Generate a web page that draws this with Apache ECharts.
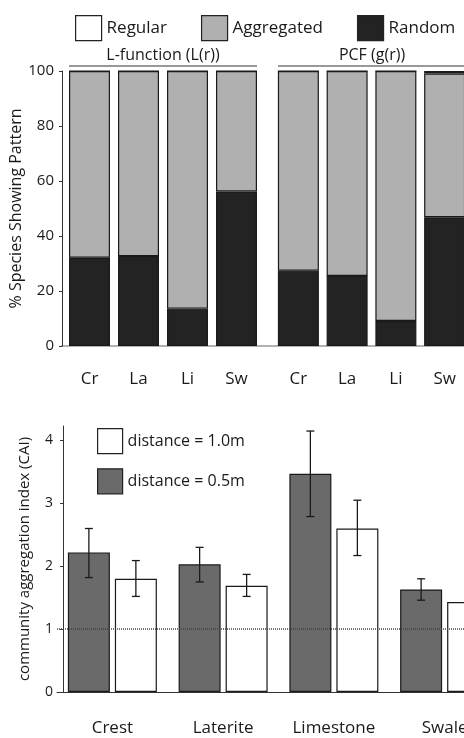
<!DOCTYPE html>
<html>
<head>
<meta charset="utf-8">
<script src="https://cdn.jsdelivr.net/npm/echarts@6/dist/echarts.min.js"></script>
<style>
html,body{margin:0;padding:0;background:#fff;}
#chart{width:464px;height:738px;}
</style>
</head>
<body>
<div id="chart"></div>
<script>
// ---- Top panel data (% species showing pattern) ----
const sitesShort = ['Cr', 'La', 'Li', 'Sw'];
const lRandom     = [32.1, 32.7, 13.6, 56.2];
const lAggregated = [67.9, 67.3, 86.4, 43.8];
const lRegular    = [0, 0, 0, 0];
const gRandom     = [27.4, 25.5, 9.1, 46.8];
const gAggregated = [72.6, 74.5, 90.9, 52.3];
const gRegular    = [0, 0, 0, 0.9];
const pctTicks = [0, 20, 40, 60, 80, 100];

// ---- Bottom panel data (CAI) ----
const sites = ['Crest', 'Laterite', 'Limestone', 'Swale'];
const cai05   = [2.22, 2.03, 3.47, 1.63];
const cai05Lo = [1.82, 1.75, 2.79, 1.46];
const cai05Hi = [2.60, 2.30, 4.15, 1.80];
const cai10   = [1.80, 1.69, 2.60, 1.43];
const cai10Lo = [1.52, 1.52, 2.17, 1.25];
const cai10Hi = [2.09, 1.87, 3.05, 1.61];
const caiTicks = [0, 1, 2, 3, 4];

const FONT = 'Open Sans';
const chart = echarts.init(document.getElementById('chart'), null, {renderer: 'canvas'});

function stackSeries(gridIdx, rnd, agg, reg) {
  const stackName = 's' + gridIdx;
  const common = {type: 'bar', stack: stackName, barWidth: 41, xAxisIndex: gridIdx, yAxisIndex: gridIdx};
  return [
    Object.assign({}, common, {name: 'Random', data: rnd, itemStyle: {color: '#232323', borderColor: '#1a1a1a', borderWidth: 1.2}}),
    Object.assign({}, common, {name: 'Aggregated', data: agg, itemStyle: {color: '#b0b0b0', borderColor: '#1a1a1a', borderWidth: 1.2}}),
    Object.assign({}, common, {name: 'Regular', data: reg, itemStyle: {color: '#ffffff', borderColor: '#1a1a1a', borderWidth: 1.2}})
  ];
}

const BAR_W = 42, BAR_GAP = 5;
const OFF = (BAR_W + BAR_GAP) / 2;
function errRender(offset) {
  return function (params, api) {
    const idx = api.value(0);
    const x = api.coord([idx, 0])[0] + offset;
    const yLo = api.coord([idx, api.value(1)])[1];
    const yHi = api.coord([idx, api.value(2)])[1];
    const cap = 4;
    const st = {stroke: '#1a1a1a', lineWidth: 1.3};
    return {type: 'group', children: [
      {type: 'line', shape: {x1: x, y1: yLo, x2: x, y2: yHi}, style: st},
      {type: 'line', shape: {x1: x - cap, y1: yHi, x2: x + cap, y2: yHi}, style: st},
      {type: 'line', shape: {x1: x - cap, y1: yLo, x2: x + cap, y2: yLo}, style: st}
    ]};
  };
}
const err05 = sites.map((s, i) => [i, cai05Lo[i], cai05Hi[i]]);
const err10 = sites.map((s, i) => [i, cai10Lo[i], cai10Hi[i]]);

const option = {
  backgroundColor: '#fff',
  animation: false,
  textStyle: {fontFamily: FONT},
  legend: [
    {
      data: [
        {name: 'Regular', itemStyle: {color: '#fff', borderColor: '#222', borderWidth: 1.2}},
        {name: 'Aggregated', itemStyle: {color: '#b0b0b0', borderColor: '#222', borderWidth: 1.2}},
        {name: 'Random', itemStyle: {color: '#232323', borderColor: '#222', borderWidth: 1.2}}
      ],
      left: 70, top: 10, width: 600, itemWidth: 26, itemHeight: 25, itemGap: 34,
      selectedMode: false, icon: 'rect',
      textStyle: {fontSize: 17, color: '#1a1a1a', fontFamily: FONT}
    },
    {
      data: [
        {name: 'distance = 1.0m', itemStyle: {color: '#fff', borderColor: '#222', borderWidth: 1.2}},
        {name: 'distance = 0.5m', itemStyle: {color: '#6a6a6a', borderColor: '#222', borderWidth: 1.2}}
      ],
      orient: 'vertical', left: 92, top: 423, itemWidth: 25, itemHeight: 25, itemGap: 14,
      selectedMode: false, icon: 'rect',
      textStyle: {fontSize: 16, color: '#1a1a1a', fontFamily: FONT}
    }
  ],
  grid: [
    {left: 65, top: 71, width: 196, height: 275, outerBoundsMode: 'none', containLabel: false},
    {left: 274, top: 71, width: 195, height: 275, outerBoundsMode: 'none', containLabel: false},
    {left: 57, top: 426, width: 443, height: 266, outerBoundsMode: 'none', containLabel: false}
  ],
  xAxis: [
    {type: 'category', gridIndex: 0, data: sitesShort, axisLine: {show: false}, axisTick: {show: false},
     axisLabel: {interval: 0, fontSize: 17, color: '#1a1a1a', margin: 25, fontFamily: FONT}},
    {type: 'category', gridIndex: 1, data: sitesShort, axisLine: {show: false}, axisTick: {show: false},
     axisLabel: {interval: 0, fontSize: 17, color: '#1a1a1a', margin: 25, fontFamily: FONT}},
    {type: 'category', gridIndex: 2, data: sites, axisLine: {lineStyle: {color: '#333', width: 1}}, axisTick: {show: false},
     axisLabel: {interval: 0, fontSize: 17, color: '#1a1a1a', margin: 28, fontFamily: FONT, hideOverlap: false}}
  ],
  yAxis: [
    {type: 'value', gridIndex: 0, min: 0, max: 100, interval: 20, offset: 3,
     name: '% Species Showing Pattern', nameLocation: 'middle', nameGap: 30,
     nameTextStyle: {fontSize: 16, color: '#1a1a1a', fontFamily: FONT},
     axisLine: {show: true, lineStyle: {color: '#333', width: 1}},
     axisTick: {show: true, length: 3, lineStyle: {color: '#333'}, customValues: pctTicks},
     axisLabel: {fontSize: 15, color: '#1a1a1a', margin: 8, fontFamily: FONT, customValues: pctTicks},
     splitLine: {show: false}},
    {type: 'value', gridIndex: 1, min: 0, max: 100, interval: 20, show: false, splitLine: {show: false}},
    {type: 'value', gridIndex: 2, min: 0, max: 4.23, interval: 1, offset: -6,
     name: 'community aggregation index (CAI)', nameLocation: 'middle', nameGap: 31,
     nameTextStyle: {fontSize: 15, color: '#1a1a1a', fontFamily: FONT},
     axisLine: {show: true, lineStyle: {color: '#333', width: 1}},
     axisTick: {show: true, length: 3, lineStyle: {color: '#333'}, customValues: caiTicks},
     axisLabel: {fontSize: 14, color: '#1a1a1a', margin: 10, fontFamily: FONT, customValues: caiTicks},
     splitLine: {show: false}}
  ],
  graphic: [
    {type: 'line', shape: {x1: 61, y1: 346, x2: 464, y2: 346}, style: {stroke: '#666', lineWidth: 1}, z: 0},
    {type: 'line', shape: {x1: 69, y1: 66, x2: 257, y2: 66}, style: {stroke: '#777', lineWidth: 1.5}},
    {type: 'line', shape: {x1: 278, y1: 66, x2: 470, y2: 66}, style: {stroke: '#777', lineWidth: 1.5}},
    {type: 'text', x: 163, y: 55, style: {text: 'L-function (L(r))', font: '16px "Open Sans"', fill: '#1a1a1a', textAlign: 'center', textVerticalAlign: 'middle'}},
    {type: 'text', x: 372, y: 55, style: {text: 'PCF (g(r))', font: '16px "Open Sans"', fill: '#1a1a1a', textAlign: 'center', textVerticalAlign: 'middle'}}
  ],
  series: [].concat(
    stackSeries(0, lRandom, lAggregated, lRegular),
    stackSeries(1, gRandom, gAggregated, gRegular),
    [
      {type: 'line', xAxisIndex: 2, yAxisIndex: 2, data: [], z: 1, silent: true,
       markLine: {silent: true, symbol: 'none', label: {show: false},
                  lineStyle: {color: '#444', type: [1, 1], width: 1.5},
                  data: [{yAxis: 1}]}},
      {type: 'bar', name: 'distance = 0.5m', xAxisIndex: 2, yAxisIndex: 2, data: cai05, z: 2,
       barWidth: BAR_W, barGap: (BAR_GAP / BAR_W * 100).toFixed(1) + '%',
       itemStyle: {color: '#6a6a6a', borderColor: '#1a1a1a', borderWidth: 1.2}},
      {type: 'bar', name: 'distance = 1.0m', xAxisIndex: 2, yAxisIndex: 2, data: cai10, z: 2,
       barWidth: BAR_W, barGap: (BAR_GAP / BAR_W * 100).toFixed(1) + '%',
       itemStyle: {color: '#ffffff', borderColor: '#1a1a1a', borderWidth: 1.2}},
      {type: 'custom', xAxisIndex: 2, yAxisIndex: 2, data: err05, z: 5, renderItem: errRender(-OFF)},
      {type: 'custom', xAxisIndex: 2, yAxisIndex: 2, data: err10, z: 5, renderItem: errRender(OFF)}
    ]
  )
};
chart.setOption(option);
</script>
</body>
</html>
